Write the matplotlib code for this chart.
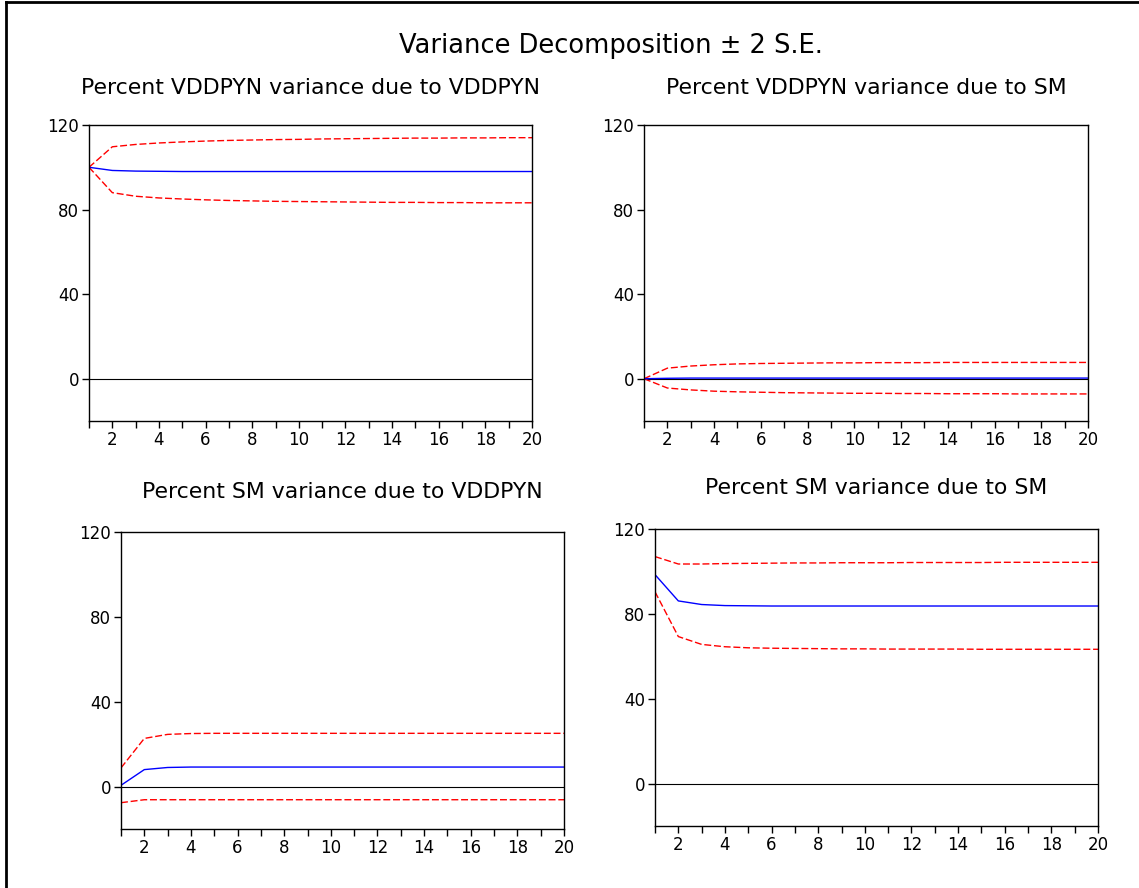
import numpy as np
import matplotlib
matplotlib.use("Agg")
import matplotlib.pyplot as plt
from matplotlib.lines import Line2D

plt.rcParams['font.family'] = ['DejaVu Sans']

periods = np.arange(1, 21)

titles = ["Percent VDDPYN variance due to VDDPYN",
          "Percent VDDPYN variance due to SM",
          "Percent SM variance due to VDDPYN",
          "Percent SM variance due to SM"]

# panel 1: VDDPYN due to VDDPYN
p1_mid = [100, 98.5, 98.2, 98.1, 98.0, 98.0, 98.0, 98.0, 98.0, 98.0,
          98.0, 98.0, 98.0, 98.0, 98.0, 98.0, 98.0, 98.0, 98.0, 98.0]
p1_up = [100, 109.7, 110.8, 111.5, 112.0, 112.4, 112.7, 112.9, 113.1, 113.2,
         113.4, 113.5, 113.6, 113.7, 113.8, 113.8, 113.9, 113.9, 114.0, 114.0]
p1_lo = [100, 88.0, 86.3, 85.5, 85.0, 84.6, 84.3, 84.1, 83.9, 83.8,
         83.7, 83.6, 83.5, 83.4, 83.4, 83.3, 83.3, 83.2, 83.2, 83.2]

# panel 2: VDDPYN due to SM
p2_mid = [0, 0.2, 0.3, 0.3, 0.3, 0.3, 0.3, 0.3, 0.3, 0.3,
          0.3, 0.3, 0.3, 0.3, 0.3, 0.3, 0.3, 0.3, 0.3, 0.3]
p2_up = [0, 5.0, 6.0, 6.6, 7.0, 7.2, 7.3, 7.4, 7.5, 7.5,
         7.6, 7.6, 7.6, 7.7, 7.7, 7.7, 7.7, 7.7, 7.7, 7.7]
p2_lo = [0, -4.4, -5.3, -5.9, -6.2, -6.4, -6.6, -6.7, -6.8, -6.9,
         -6.9, -7.0, -7.0, -7.1, -7.1, -7.1, -7.2, -7.2, -7.2, -7.2]

# panel 3: SM due to VDDPYN
p3_mid = [0.6, 8.0, 9.0, 9.2, 9.2, 9.2, 9.2, 9.2, 9.2, 9.2,
          9.2, 9.2, 9.2, 9.2, 9.2, 9.2, 9.2, 9.2, 9.2, 9.2]
p3_up = [8.8, 22.7, 24.6, 25.0, 25.1, 25.1, 25.1, 25.1, 25.1, 25.1,
         25.1, 25.1, 25.1, 25.1, 25.1, 25.1, 25.1, 25.1, 25.1, 25.1]
p3_lo = [-7.6, -6.2, -6.2, -6.2, -6.2, -6.2, -6.2, -6.2, -6.2, -6.2,
         -6.2, -6.2, -6.2, -6.2, -6.2, -6.2, -6.2, -6.2, -6.2, -6.2]

# panel 4: SM due to SM
p4_mid = [98.5, 86.1, 84.4, 83.9, 83.8, 83.7, 83.7, 83.7, 83.7, 83.7,
          83.7, 83.7, 83.7, 83.7, 83.7, 83.7, 83.7, 83.7, 83.7, 83.7]
p4_up = [107.0, 103.5, 103.5, 103.7, 103.8, 103.9, 104.0, 104.0, 104.1, 104.1,
         104.1, 104.2, 104.2, 104.2, 104.2, 104.3, 104.3, 104.3, 104.3, 104.3]
p4_lo = [90.4, 69.3, 65.6, 64.5, 64.0, 63.8, 63.7, 63.6, 63.5, 63.5,
         63.4, 63.4, 63.4, 63.4, 63.3, 63.3, 63.3, 63.3, 63.3, 63.3]

series = [(p1_mid, p1_up, p1_lo), (p2_mid, p2_up, p2_lo),
          (p3_mid, p3_up, p3_lo), (p4_mid, p4_up, p4_lo)]

W, H = 1139, 888
# axes boxes in pixels: left, right, top, bottom, title centre y
boxes = [(89, 532, 125, 421, 88), (644, 1088, 125, 421, 88),
         (121, 564, 532, 829, 492), (655, 1098, 529, 826, 488)]

fig = plt.figure(figsize=(W / 100, H / 100), dpi=100)
fig.patch.set_facecolor('white')

for (l, r, t, b, ty), title, (mid, up, lo) in zip(boxes, titles, series):
    ax = fig.add_axes([l / W, 1 - b / H, (r - l) / W, (b - t) / H])
    ax.axhline(0, color='black', lw=0.8)
    ax.plot(periods, up, color='red', lw=1, ls=(0, (5, 2)))
    ax.plot(periods, lo, color='red', lw=1, ls=(0, (5, 2)))
    ax.plot(periods, mid, color='blue', lw=1)
    ax.set_xlim(1, 20)
    ax.set_ylim(-20, 120)
    ax.set_yticks([0, 40, 80, 120])
    ax.set_xticks(periods)
    ax.set_xticklabels([str(p) if p % 2 == 0 else '' for p in periods])
    ax.tick_params(direction='out', length=5, width=1, labelsize=12,
                   top=False, right=False, pad=2)
    for s in ax.spines.values():
        s.set_linewidth(1)
    fig.text((l + r) / 2 / W, 1 - ty / H, title, ha='center', va='center',
             fontsize=15.8)

fig.text(611 / W, 1 - 46 / H, "Variance Decomposition \u00b1 2 S.E.",
         ha='center', va='center', fontsize=18.5)

# outer frame (only left and top visible in the crop)
fig.add_artist(Line2D([6 / W, 6 / W], [0, 1 - 2 / H], color='black', lw=2))
fig.add_artist(Line2D([6 / W, 1], [1 - 2 / H, 1 - 2 / H], color='black', lw=2))

fig.savefig('out.png', dpi=100)
